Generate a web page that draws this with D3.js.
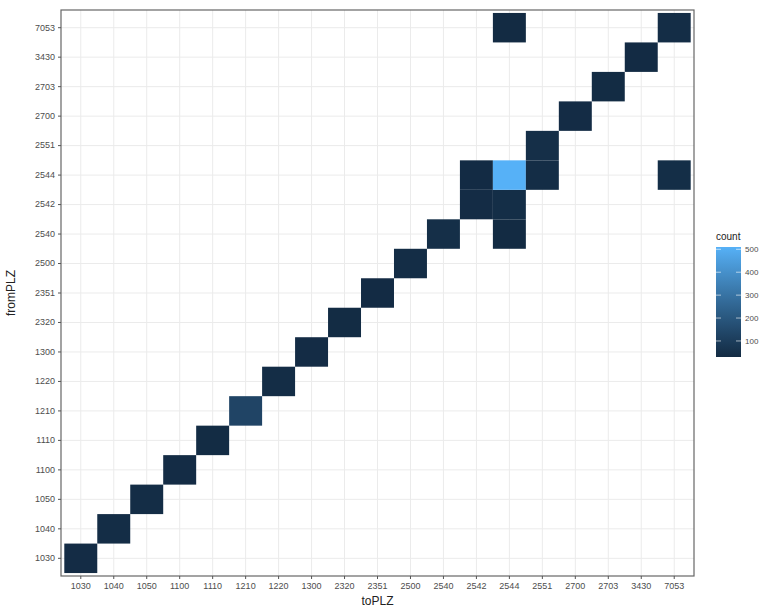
<!DOCTYPE html>
<html>
<head>
<meta charset="utf-8">
<script src="https://cdn.jsdelivr.net/npm/d3@7"></script>
<style>
  body { margin: 0; background: #fff; }
  svg { font-family: "Liberation Sans", Arial, sans-serif; }
</style>
</head>
<body>
<script>
// postal codes used on both axes
const plz = ["1030","1040","1050","1100","1110","1210","1220","1300","2320","2351",
             "2500","2540","2542","2544","2551","2700","2703","3430","7053"];

// tiles: fromPLZ (y), toPLZ (x), count
const fromPLZ = ["1030","1040","1050","1100","1110","1210","1220","1300","2320","2351",
                 "2500","2540","2540","2542","2542","2544","2544","2544","2544",
                 "2551","2700","2703","3430","7053","7053"];
const toPLZ   = ["1030","1040","1050","1100","1110","1210","1220","1300","2320","2351",
                 "2500","2540","2544","2542","2544","2542","2544","2551","7053",
                 "2551","2700","2703","3430","2544","7053"];
const counts  = [35, 40, 38, 36, 34, 130, 38, 36, 34, 32,
                 40, 45, 30, 35, 42, 32, 510, 40, 42,
                 45, 36, 34, 32, 30, 38];

const legendTicks = [100, 200, 300, 400, 500];

const W = 767, H = 611;
const panel = {left: 61, top: 10, right: 694, bottom: 576};

const svg = d3.select("body").append("svg")
  .attr("width", W).attr("height", H);

const x = d3.scaleBand().domain(plz)
  .range([panel.left, panel.right]).paddingInner(0).paddingOuter(0.1);
const y = d3.scaleBand().domain(plz)
  .range([panel.bottom, panel.top]).paddingInner(0).paddingOuter(0.1);

const color = d3.scaleLinear()
  .domain(d3.extent(counts))
  .range(["#132B43", "#56B1F7"])
  .interpolate(d3.interpolateLab);

// grid
const grid = svg.append("g");
grid.selectAll(".gx").data(plz).join("line")
  .attr("x1", d => x(d) + x.bandwidth() / 2).attr("x2", d => x(d) + x.bandwidth() / 2)
  .attr("y1", panel.top).attr("y2", panel.bottom)
  .attr("stroke", "#ebebeb").attr("stroke-width", 1);
grid.selectAll(".gy").data(plz).join("line")
  .attr("y1", d => y(d) + y.bandwidth() / 2).attr("y2", d => y(d) + y.bandwidth() / 2)
  .attr("x1", panel.left).attr("x2", panel.right)
  .attr("stroke", "#ebebeb").attr("stroke-width", 1);

// tiles
const tiles = counts.map((c, i) => ({from: fromPLZ[i], to: toPLZ[i], count: c}));
svg.append("g").selectAll("rect").data(tiles).join("rect")
  .attr("x", d => x(d.to)).attr("y", d => y(d.from))
  .attr("width", x.bandwidth()).attr("height", y.bandwidth())
  .attr("fill", d => color(d.count));

// panel border
svg.append("rect")
  .attr("x", panel.left).attr("y", panel.top)
  .attr("width", panel.right - panel.left).attr("height", panel.bottom - panel.top)
  .attr("fill", "none").attr("stroke", "#666").attr("stroke-width", 1.2);

// axes
const xAxis = svg.append("g")
  .attr("transform", `translate(0,${panel.bottom})`)
  .call(d3.axisBottom(x).tickSize(3).tickPadding(4));
const yAxis = svg.append("g")
  .attr("transform", `translate(${panel.left},0)`)
  .call(d3.axisLeft(y).tickSize(3).tickPadding(3));
[xAxis, yAxis].forEach(a => {
  a.select(".domain").remove();
  a.selectAll(".tick line").attr("stroke", "#555");
  a.selectAll(".tick text").attr("fill", "#4d4d4d").style("font-size", "9px");
});

// axis titles
svg.append("text").attr("x", (panel.left + panel.right) / 2).attr("y", 605)
  .attr("text-anchor", "middle").style("font-size", "12px").attr("fill", "#222")
  .text("toPLZ");
svg.append("text")
  .attr("transform", `translate(15,${(panel.top + panel.bottom) / 2}) rotate(-90)`)
  .attr("text-anchor", "middle").style("font-size", "12px").attr("fill", "#222")
  .text("fromPLZ");

// legend
const lg = svg.append("g");
const barX = 716, barW = 25, barTop = 247, barBottom = 357;
const ly = d3.scaleLinear().domain(color.domain()).range([barBottom, barTop]);
const defs = svg.append("defs");
const grad = defs.append("linearGradient").attr("id", "cgrad")
  .attr("x1", 0).attr("y1", 1).attr("x2", 0).attr("y2", 0);
d3.range(0, 1.0001, 0.1).forEach(t => {
  grad.append("stop").attr("offset", t)
    .attr("stop-color", color(color.domain()[0] + t * (color.domain()[1] - color.domain()[0])));
});
lg.append("text").attr("x", barX).attr("y", 240)
  .style("font-size", "10px").attr("fill", "#222").text("count");
lg.append("rect").attr("x", barX).attr("y", barTop)
  .attr("width", barW).attr("height", barBottom - barTop)
  .attr("fill", "url(#cgrad)");
legendTicks.forEach(v => {
  const yy = ly(v);
  lg.append("line").attr("x1", barX).attr("x2", barX + 5).attr("y1", yy).attr("y2", yy)
    .attr("stroke", "#fff").attr("stroke-opacity", 0.6);
  lg.append("line").attr("x1", barX + barW - 5).attr("x2", barX + barW).attr("y1", yy).attr("y2", yy)
    .attr("stroke", "#fff").attr("stroke-opacity", 0.6);
  lg.append("text").attr("x", barX + barW + 4).attr("y", yy).attr("dy", "0.35em")
    .style("font-size", "8px").attr("fill", "#4d4d4d").text(v);
});
</script>
</body>
</html>
